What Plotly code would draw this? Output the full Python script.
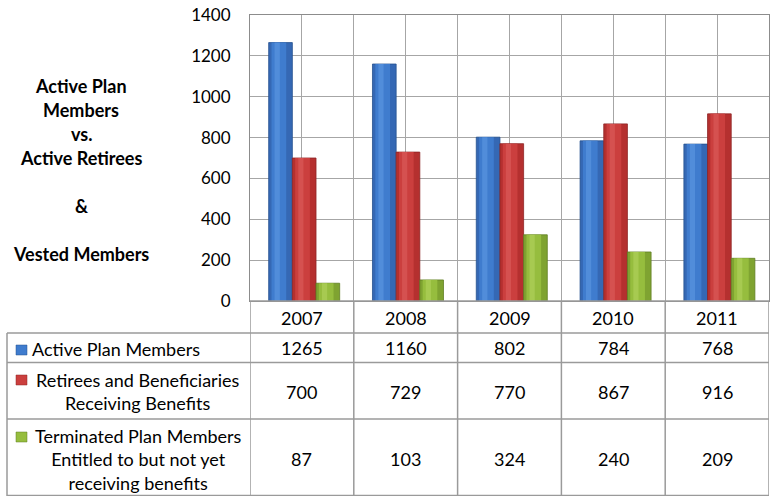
import plotly.graph_objects as go

# ---- data ----
years = ["2007", "2008", "2009", "2010", "2011"]
active_members = [1265, 1160, 802, 784, 768]
retirees = [700, 729, 770, 867, 916]
terminated = [87, 103, 324, 240, 209]
series_names = [
    "Active Plan Members",
    "Retirees and Beneficiaries<br>Receiving Benefits",
    "Terminated Plan Members<br>Entitled to but not yet<br>receiving benefits",
]
y_ticks = [0, 200, 400, 600, 800, 1000, 1200, 1400]
title_lines = ["Active Plan", "Members", "vs.", "Active Retirees", "", "&", "", "Vested Members"]

W, H = 771, 496
FONT = "Lato"


def px(x):
    return x / W


def py(y):
    return 1 - y / H


series = [active_members, retirees, terminated]
base_colors = ["#3568B4", "#B5302F", "#7FA331"]
mid_colors = ["#3F7CCE", "#CB3F3E", "#96BD3E"]
hi_colors = ["#5A95E0", "#DA5A58", "#AFD05A"]
edge_colors = ["#25508F", "#8E2424", "#5F7E22"]

xs = list(range(len(years)))
bar_w = 0.228
start = -0.32

fig = go.Figure()
for i, vals in enumerate(series):
    off = start + i * bar_w
    fig.add_trace(go.Bar(x=xs, y=vals, offset=off, width=bar_w,
                         marker=dict(color=base_colors[i], line=dict(color=edge_colors[i], width=0.8)),
                         showlegend=False, hoverinfo="skip"))
    fig.add_trace(go.Bar(x=xs, y=vals, offset=off + bar_w * 0.12, width=bar_w * 0.62,
                         marker=dict(color=mid_colors[i], line=dict(width=0)),
                         showlegend=False, hoverinfo="skip"))
    fig.add_trace(go.Bar(x=xs, y=vals, offset=off + bar_w * 0.25, width=bar_w * 0.22,
                         marker=dict(color=hi_colors[i], line=dict(width=0)), opacity=0.7,
                         showlegend=False, hoverinfo="skip"))

grid_vals = [v / 2 - 0.5 for v in range(0, 2 * len(years) + 1)]

fig.update_layout(
    width=W, height=H,
    margin=dict(l=0, r=0, t=0, b=0, autoexpand=False),
    paper_bgcolor="white", plot_bgcolor="white",
    barmode="overlay",
    font=dict(family=FONT, size=18, color="#000000"),
    xaxis=dict(domain=[px(250), px(769)], range=[-0.5, len(years) - 0.5],
               tickvals=grid_vals, showticklabels=False, ticks="", automargin=False,
               showgrid=True, gridcolor="#A6A6A6", gridwidth=1,
               showline=True, linecolor="#8C8C8C", linewidth=1, mirror=True,
               zeroline=False, fixedrange=True),
    yaxis=dict(domain=[py(301), py(15)], range=[0, 1400], automargin=False,
               tickvals=y_ticks, ticktext=[str(v) for v in y_ticks],
               showgrid=True, gridcolor="#A6A6A6", gridwidth=1,
               showline=True, linecolor="#8C8C8C", linewidth=1, mirror=True,
               zeroline=False, ticks="", ticklabelstandoff=15,
               tickfont=dict(family=FONT, size=17, color="#000000"), fixedrange=True),
)

shapes = []
line_c = "#9A9A9A"
# table horizontal lines
rows_y = [301, 333, 362.5, 419, 495.5]
for j, yy in enumerate(rows_y):
    x0 = 250 if j == 0 else 7
    shapes.append(dict(type="line", xref="paper", yref="paper", x0=px(x0), x1=px(769),
                       y0=py(yy), y1=py(yy), line=dict(color=line_c, width=1.5)))
# vertical lines
for k in range(len(years) + 1):
    xx = -0.5 + k
    shapes.append(dict(type="line", xref="x", yref="paper", x0=xx, x1=xx,
                       y0=py(301), y1=py(496), line=dict(color=line_c, width=1.5)))
shapes.append(dict(type="line", xref="paper", yref="paper", x0=px(7), x1=px(7),
                   y0=py(333), y1=py(496), line=dict(color=line_c, width=1.5)))

# legend keys
key_y = [350, 380, 437]
for i in range(3):
    shapes.append(dict(type="rect", xref="paper", yref="paper",
                       x0=px(16), x1=px(27), y0=py(key_y[i] - 5), y1=py(key_y[i] + 5),
                       fillcolor=mid_colors[i], line=dict(color=edge_colors[i], width=0.5)))
fig.update_layout(shapes=shapes)

ann = []
# year header
for k, yr in enumerate(years):
    ann.append(dict(x=k, y=py(318), xref="x", yref="paper", text=yr, showarrow=False,
                    font=dict(family=FONT, size=18), xanchor="center", yanchor="middle"))
# values
val_y = [348, 392, 459]
for i, vals in enumerate(series):
    for k, v in enumerate(vals):
        ann.append(dict(x=k, y=py(val_y[i]), xref="x", yref="paper", text=str(v), showarrow=False,
                        font=dict(family=FONT, size=18), xanchor="center", yanchor="middle"))
# row labels
ann.append(dict(x=px(30), y=py(349), xref="paper", yref="paper", text=series_names[0],
                showarrow=False, xanchor="left", yanchor="middle", font=dict(family=FONT, size=18)))
ann.append(dict(x=px(137), y=py(391), xref="paper", yref="paper", text=series_names[1],
                showarrow=False, xanchor="center", yanchor="middle", align="center",
                font=dict(family=FONT, size=18)))
ann.append(dict(x=px(138), y=py(459), xref="paper", yref="paper", text=series_names[2],
                showarrow=False, xanchor="center", yanchor="middle", align="center",
                font=dict(family=FONT, size=18)))
# left title
for n, t in enumerate(title_lines):
    if t:
        ann.append(dict(x=px(81), y=py(86 + 24 * n), xref="paper", yref="paper", text="<b>" + t + "</b>",
                        showarrow=False, xanchor="center", yanchor="middle",
                        font=dict(family=FONT, size=18)))
fig.update_layout(annotations=ann)

fig.write_html("out.html", config={"displayModeBar": False},
               post_script="document.body.style.margin='0';document.body.style.overflow='hidden';")
